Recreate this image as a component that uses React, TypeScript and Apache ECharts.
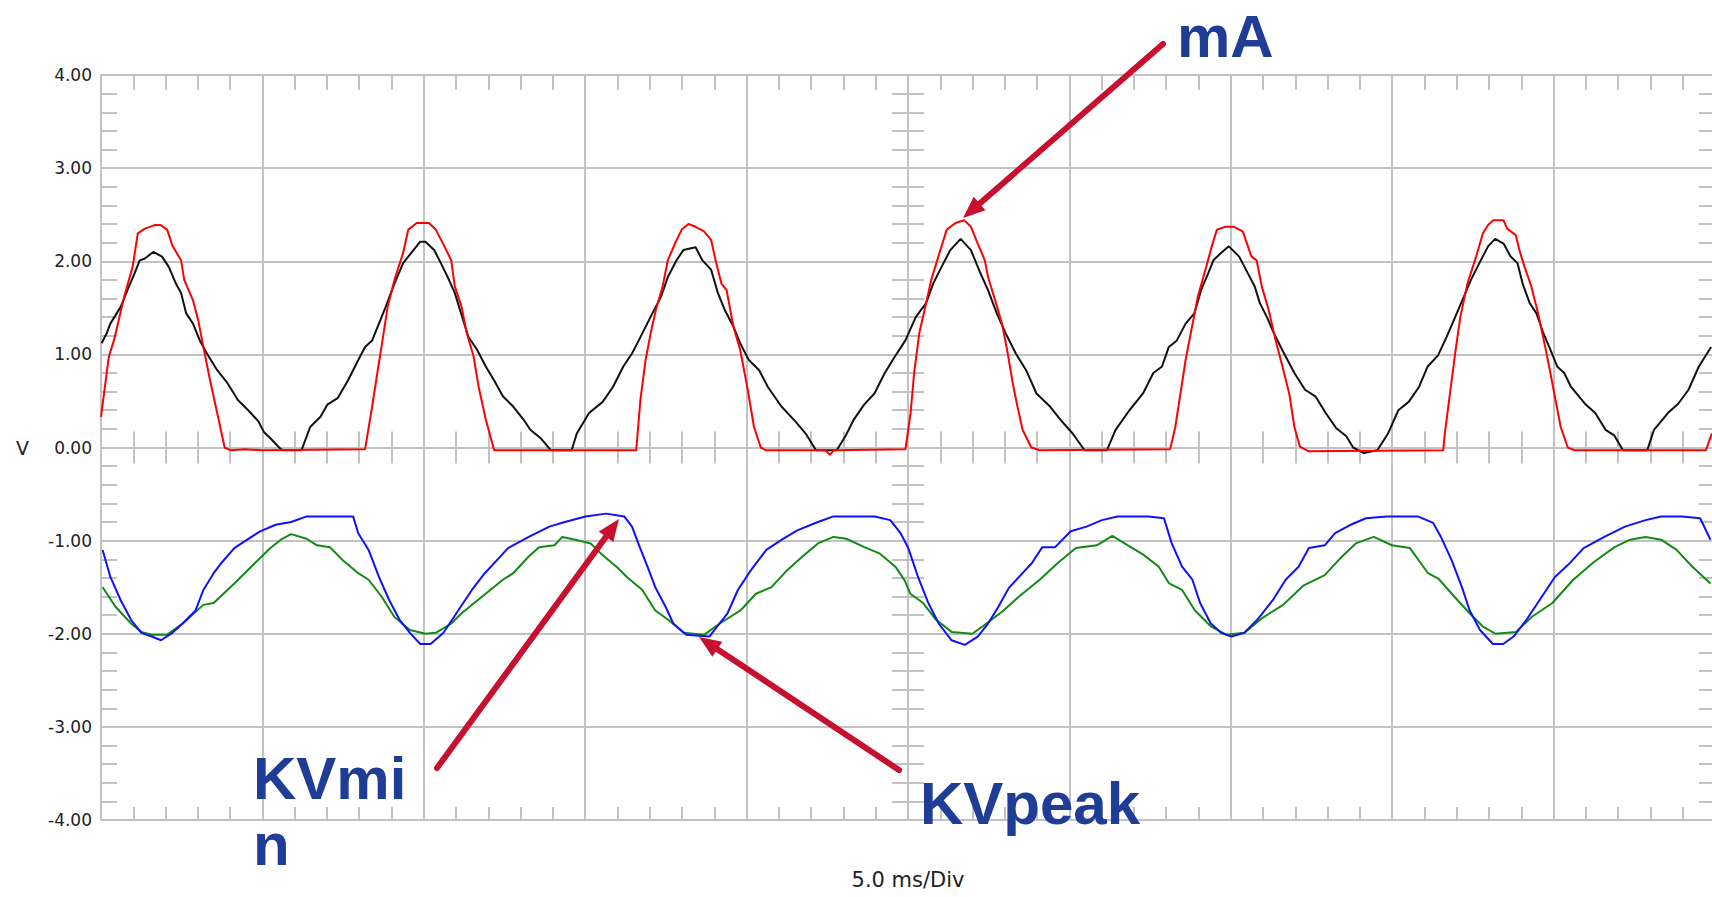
import React, { useEffect, useRef } from "react";
import * as echarts from "echarts";

// Time axis: 5.0 ms per division, 10 divisions
const timeDivisionsMs = [0, 50];
const voltTicks = [-4, 4];

// Red trace (mA) [ms, V]
const redTrace: number[][] = [
  [0.0, 0.33], [0.24, 0.97], [0.4, 1.15], [0.72, 1.62], [0.98, 1.94], [1.14, 2.3], [1.36, 2.35], [1.68, 2.39], [1.84, 2.39], [2.05, 2.34], [2.21, 2.17], [2.48, 2.01], [2.58, 1.8], [2.85, 1.58], [3.01, 1.37], [3.17, 1.08], [3.38, 0.72], [3.6, 0.37], [3.83, 0.0], [4.02, -0.03], [4.45, -0.02], [5.0, -0.03], [8.18, -0.02],
  [8.4, 0.44], [8.56, 0.8], [8.72, 1.15], [8.88, 1.51], [9.09, 1.8], [9.36, 2.09], [9.52, 2.34], [9.78, 2.41], [10.16, 2.41], [10.37, 2.34], [10.64, 2.16], [10.85, 2.01], [10.96, 1.73], [11.17, 1.51], [11.33, 1.23], [11.54, 0.98], [11.7, 0.65], [11.92, 0.3], [12.18, -0.03], [16.58, -0.03],
  [16.71, 0.51], [16.87, 0.94], [17.03, 1.23], [17.19, 1.48], [17.4, 1.73], [17.56, 2.01], [17.78, 2.19], [17.99, 2.34], [18.2, 2.4], [18.42, 2.37], [18.68, 2.32], [18.9, 2.23], [19.06, 1.98], [19.22, 1.76], [19.38, 1.69], [19.59, 1.3], [19.8, 1.05], [20.02, 0.65], [20.23, 0.22], [20.44, 0.0], [20.6, -0.03], [22.45, -0.03], [22.58, -0.08], [22.7, -0.03], [24.92, -0.02],
  [25.08, 0.37], [25.19, 0.8], [25.35, 1.23], [25.56, 1.55], [25.72, 1.8], [25.94, 2.05], [26.2, 2.34], [26.47, 2.41], [26.74, 2.44], [26.95, 2.37], [27.16, 2.19], [27.38, 2.01], [27.48, 1.83], [27.7, 1.58], [27.91, 1.33], [28.07, 1.05], [28.23, 0.72], [28.39, 0.44], [28.55, 0.19], [28.82, 0.0], [29.08, -0.03], [33.12, -0.02],
  [33.28, 0.22], [33.44, 0.58], [33.6, 0.94], [33.76, 1.23], [33.98, 1.62], [34.24, 1.94], [34.41, 2.16], [34.57, 2.34], [34.83, 2.37], [35.1, 2.37], [35.37, 2.32], [35.64, 2.05], [35.8, 2.01], [35.96, 1.73], [36.17, 1.48], [36.39, 1.15], [36.6, 0.87], [36.81, 0.58], [36.97, 0.22], [37.14, 0.01], [37.4, -0.04], [41.58, -0.03],
  [41.63, 0.15], [41.79, 0.58], [41.95, 1.01], [42.11, 1.4], [42.33, 1.76], [42.6, 2.05], [42.81, 2.3], [42.97, 2.39], [43.13, 2.44], [43.45, 2.44], [43.56, 2.35], [43.83, 2.28], [43.94, 2.12], [44.1, 1.94], [44.31, 1.73], [44.52, 1.44], [44.74, 1.08], [44.9, 0.8], [45.06, 0.51], [45.22, 0.22], [45.44, 0.0], [45.65, -0.03], [49.72, -0.03], [49.9, 0.15],
];

// Black trace [ms, V]
const blackTrace: number[][] = [
  [0.02, 1.12], [0.18, 1.23], [0.29, 1.33], [0.61, 1.51], [0.82, 1.69], [1.04, 1.87], [1.2, 2.01], [1.36, 2.03], [1.62, 2.1], [1.89, 2.05], [2.1, 1.94], [2.32, 1.76], [2.48, 1.66], [2.64, 1.44], [2.85, 1.33], [3.06, 1.15], [3.28, 1.01], [3.6, 0.83], [3.92, 0.69], [4.24, 0.51], [4.56, 0.4], [4.88, 0.28], [5.04, 0.17], [5.3, 0.08], [5.52, 0.0], [5.62, -0.03], [6.21, -0.03],
  [6.48, 0.22], [6.8, 0.33], [7.01, 0.46], [7.33, 0.53], [7.65, 0.72], [7.97, 0.94], [8.18, 1.08], [8.4, 1.15], [8.61, 1.33], [8.82, 1.51], [9.09, 1.76], [9.36, 1.98], [9.68, 2.12], [9.89, 2.21], [10.05, 2.21], [10.32, 2.12], [10.53, 1.98], [10.74, 1.83], [10.96, 1.66], [11.12, 1.48], [11.28, 1.3], [11.38, 1.19], [11.65, 1.05], [11.92, 0.87], [12.18, 0.72], [12.45, 0.55], [12.77, 0.44], [13.09, 0.3], [13.3, 0.19], [13.62, 0.1], [13.94, -0.03], [14.58, -0.03],
  [14.74, 0.15], [15.12, 0.37], [15.54, 0.49], [15.86, 0.65], [16.18, 0.87], [16.45, 1.01], [16.66, 1.15], [16.82, 1.26], [17.08, 1.44], [17.35, 1.62], [17.56, 1.83], [17.83, 2.01], [18.04, 2.12], [18.42, 2.15], [18.63, 2.01], [18.9, 1.91], [19.11, 1.66], [19.32, 1.48], [19.59, 1.3], [19.8, 1.12], [20.07, 0.94], [20.39, 0.83], [20.66, 0.65], [21.08, 0.44], [21.51, 0.28], [21.83, 0.15], [22.15, -0.03], [22.79, -0.03],
  [23.06, 0.12], [23.32, 0.3], [23.64, 0.46], [23.96, 0.58], [24.28, 0.8], [24.6, 0.98], [24.92, 1.15], [25.24, 1.4], [25.56, 1.55], [25.78, 1.76], [26.04, 1.94], [26.31, 2.12], [26.63, 2.24], [26.95, 2.12], [27.22, 1.89], [27.48, 1.69], [27.75, 1.44], [28.02, 1.23], [28.34, 1.01], [28.66, 0.83], [28.98, 0.58], [29.4, 0.44], [29.72, 0.3], [30.1, 0.15], [30.47, -0.03], [31.16, -0.03],
  [31.43, 0.19], [31.86, 0.4], [32.28, 0.58], [32.6, 0.8], [32.87, 0.87], [33.08, 1.08], [33.33, 1.15], [33.6, 1.33], [33.87, 1.44], [34.08, 1.69], [34.3, 1.87], [34.46, 2.01], [34.67, 2.08], [34.94, 2.16], [35.26, 2.05], [35.53, 1.87], [35.74, 1.73], [35.9, 1.55], [36.12, 1.4], [36.33, 1.23], [36.65, 1.01], [36.97, 0.8], [37.3, 0.62], [37.62, 0.55], [37.94, 0.37], [38.26, 0.21], [38.58, 0.12], [38.79, 0.0], [39.12, -0.06], [39.54, -0.03],
  [39.87, 0.15], [40.19, 0.4], [40.51, 0.49], [40.83, 0.65], [41.1, 0.87], [41.42, 0.99], [41.69, 1.19], [41.95, 1.4], [42.22, 1.62], [42.44, 1.8], [42.7, 1.98], [42.97, 2.16], [43.19, 2.24], [43.45, 2.19], [43.67, 2.05], [43.88, 1.98], [44.04, 1.76], [44.26, 1.55], [44.47, 1.44], [44.68, 1.23], [44.9, 1.05], [45.11, 0.87], [45.33, 0.8], [45.54, 0.65], [45.97, 0.47], [46.29, 0.37], [46.61, 0.19], [46.88, 0.13], [47.15, -0.03], [47.9, -0.03],
  [48.11, 0.19], [48.54, 0.37], [48.86, 0.47], [49.18, 0.62], [49.5, 0.87], [49.88, 1.08],
];

// Blue trace [ms, V]
const blueTrace: number[][] = [
  [0.05, -1.1], [0.29, -1.39], [0.61, -1.64], [0.93, -1.85], [1.25, -1.99], [1.57, -2.03], [1.86, -2.07], [2.21, -1.99], [2.53, -1.89], [2.93, -1.75], [3.17, -1.53], [3.49, -1.35], [3.73, -1.24], [4.13, -1.08], [4.53, -0.99], [4.93, -0.9], [5.41, -0.83], [5.89, -0.8], [6.37, -0.74], [7.17, -0.74], [7.81, -0.74],
  [7.97, -0.92], [8.29, -1.1], [8.61, -1.39], [8.93, -1.64], [9.25, -1.85], [9.57, -1.99], [9.89, -2.11], [10.21, -2.11], [10.61, -1.99], [11.01, -1.78], [11.49, -1.53], [11.89, -1.35], [12.61, -1.08], [13.25, -0.96], [13.89, -0.85], [14.37, -0.8], [15.01, -0.74], [15.65, -0.71], [16.21, -0.74],
  [16.45, -0.85], [16.69, -1.07], [16.93, -1.28], [17.17, -1.5], [17.49, -1.71], [17.73, -1.89], [18.13, -2.01], [18.85, -2.03], [19.09, -1.92], [19.41, -1.78], [19.73, -1.53], [20.13, -1.32], [20.61, -1.1], [21.09, -0.99], [21.57, -0.89], [22.21, -0.8], [22.69, -0.74], [23.97, -0.74], [24.45, -0.78],
  [24.77, -0.92], [25.01, -1.08], [25.31, -1.39], [25.63, -1.67], [25.95, -1.89], [26.35, -2.07], [26.76, -2.12], [27.16, -2.03], [27.48, -1.89], [27.8, -1.71], [28.12, -1.51], [28.44, -1.39], [28.84, -1.24], [29.16, -1.07], [29.56, -1.07], [30.04, -0.9], [30.53, -0.85], [31.01, -0.78], [31.49, -0.74], [32.45, -0.74], [32.93, -0.76],
  [33.17, -1.03], [33.49, -1.28], [33.81, -1.42], [34.05, -1.67], [34.38, -1.89], [34.7, -1.99], [35.02, -2.03], [35.42, -1.99], [35.82, -1.85], [36.3, -1.64], [36.7, -1.42], [37.1, -1.28], [37.42, -1.08], [37.91, -1.05], [38.23, -0.92], [38.71, -0.83], [39.19, -0.76], [39.83, -0.74], [40.79, -0.74], [41.27, -0.81],
  [41.51, -0.96], [41.84, -1.21], [42.16, -1.5], [42.4, -1.75], [42.72, -1.96], [43.12, -2.11], [43.44, -2.11], [43.76, -2.03], [44.16, -1.85], [44.64, -1.6], [45.04, -1.39], [45.45, -1.26], [45.93, -1.08], [46.57, -0.96], [47.21, -0.85], [47.85, -0.78], [48.33, -0.74], [48.98, -0.74], [49.54, -0.76], [49.86, -0.99],
];

// Green trace [ms, V]
const greenTrace: number[][] = [
  [0.05, -1.5], [0.45, -1.71], [0.93, -1.89], [1.25, -1.98], [1.57, -2.01], [2.05, -2.01], [2.53, -1.89], [3.17, -1.69], [3.49, -1.67], [4.13, -1.46], [4.77, -1.24], [5.25, -1.08], [5.57, -0.99], [5.89, -0.93], [6.37, -0.98], [6.69, -1.05], [7.09, -1.07], [7.49, -1.21], [7.97, -1.35], [8.29, -1.42], [8.69, -1.6], [9.09, -1.82], [9.57, -1.96], [10.05, -2.0], [10.37, -1.99],
  [10.85, -1.89], [11.17, -1.78], [11.81, -1.6], [12.45, -1.42], [12.77, -1.35], [13.25, -1.17], [13.57, -1.07], [14.05, -1.05], [14.29, -0.96], [14.69, -0.99], [15.17, -1.03], [15.49, -1.14], [15.97, -1.28], [16.29, -1.39], [16.77, -1.53], [17.17, -1.75], [17.57, -1.85], [18.05, -1.99], [18.69, -2.01],
  [19.17, -1.89], [19.81, -1.75], [20.29, -1.57], [20.77, -1.5], [21.25, -1.32], [21.73, -1.17], [22.21, -1.03], [22.69, -0.96], [23.09, -0.98], [23.65, -1.07], [24.13, -1.14], [24.61, -1.28], [24.9, -1.43], [25.07, -1.57], [25.47, -1.67], [25.87, -1.85], [26.35, -1.98], [26.99, -2.0],
  [27.32, -1.92], [27.96, -1.75], [28.44, -1.6], [29.08, -1.42], [29.64, -1.24], [30.2, -1.08], [30.85, -1.05], [31.33, -0.95], [31.81, -1.05], [32.29, -1.15], [32.77, -1.28], [33.09, -1.46], [33.49, -1.53], [33.89, -1.75], [34.38, -1.92], [34.86, -2.01], [35.42, -1.99],
  [35.98, -1.83], [36.62, -1.69], [37.26, -1.48], [37.91, -1.37], [38.39, -1.19], [38.87, -1.03], [39.43, -0.96], [39.99, -1.05], [40.55, -1.08], [41.11, -1.35], [41.44, -1.41], [41.92, -1.6], [42.4, -1.78], [42.8, -1.92], [43.2, -2.0], [43.84, -1.98],
  [44.32, -1.82], [44.96, -1.67], [45.61, -1.42], [46.25, -1.23], [46.89, -1.07], [47.37, -0.99], [47.85, -0.96], [48.33, -0.99], [48.81, -1.1], [49.3, -1.28], [49.86, -1.46],
];

const GRID_COLOR = "#c2c2c2";
const LABEL_FONT = "DejaVu Sans";
const NOTE_COLOR = "#1f3d96";
const ARROW_COLOR = "#c8102e";

function arrow(x1: number, y1: number, x2: number, y2: number) {
  const dx = x2 - x1;
  const dy = y2 - y1;
  const len = Math.hypot(dx, dy);
  const ux = dx / len;
  const uy = dy / len;
  const h = 22;
  const w = 9;
  const bx = x2 - ux * h;
  const by = y2 - uy * h;
  return [
    {
      type: "line",
      z: 100,
      shape: { x1, y1, x2: bx + ux * 4, y2: by + uy * 4 },
      style: { stroke: ARROW_COLOR, lineWidth: 6, lineCap: "round" },
    },
    {
      type: "polygon",
      z: 100,
      shape: {
        points: [
          [x2, y2],
          [bx - uy * w, by + ux * w],
          [bx + uy * w, by - ux * w],
        ],
      },
      style: { fill: ARROW_COLOR },
    },
  ];
}

function tickAxisCommon(len: number) {
  return {
    axisLine: { show: true, onZero: false, lineStyle: { color: GRID_COLOR, width: 2 } },
    axisTick: { show: true, inside: true, length: len, lineStyle: { color: GRID_COLOR, width: 2 } },
    minorTick: { show: true, splitNumber: 5, length: len, lineStyle: { color: GRID_COLOR, width: 2 } },
    axisLabel: { show: false },
    splitLine: { show: false },
  };
}

export default function App() {
  const ref = useRef<HTMLDivElement>(null);
  useEffect(() => {
    if (!ref.current) return;
    const chart = echarts.init(ref.current, undefined, { renderer: "svg" });
    const gridRect = { left: 101, top: 75, right: -3, bottom: 77, containLabel: false, outerBoundsMode: "none" };
    const centerAxis = (len: number) => {
      const c = tickAxisCommon(len);
      return { ...c, axisLine: { ...c.axisLine, onZero: true } };
    };
    const option: any = {
      animation: false,
      backgroundColor: "#ffffff",
      grid: [
        { ...gridRect },
        { ...gridRect },
      ],
      xAxis: [
        {
          gridIndex: 0,
          type: "value",
          position: "bottom",
          min: timeDivisionsMs[0],
          max: timeDivisionsMs[1],
          interval: 5,
          ...tickAxisCommon(13),
          splitLine: { show: true, lineStyle: { color: GRID_COLOR, width: 2 } },
          name: "5.0 ms/Div",
          nameLocation: "middle",
          nameGap: 49,
          nameTextStyle: { fontFamily: LABEL_FONT, fontSize: 21, color: "#222" },
        },
        {
          gridIndex: 0,
          type: "value",
          position: "top",
          min: timeDivisionsMs[0],
          max: timeDivisionsMs[1],
          interval: 5,
          ...tickAxisCommon(15),
        },
        {
          gridIndex: 1,
          type: "value",
          position: "bottom",
          min: -25,
          max: 25,
          interval: 5,
          ...centerAxis(16),
        },
        {
          gridIndex: 1,
          type: "value",
          position: "top",
          min: -25,
          max: 25,
          interval: 5,
          ...centerAxis(16),
        },
      ],
      yAxis: [
        {
          gridIndex: 0,
          type: "value",
          position: "left",
          min: voltTicks[0],
          max: voltTicks[1],
          interval: 1,
          ...tickAxisCommon(16),
          splitLine: { show: true, lineStyle: { color: GRID_COLOR, width: 2 } },
          axisLabel: {
            show: true,
            margin: 9,
            fontFamily: LABEL_FONT,
            fontSize: 17,
            color: "#222",
            formatter: (v: number) => v.toFixed(2),
          },
          name: "V",
          nameLocation: "middle",
          nameRotate: 0,
          nameGap: 72,
          nameTextStyle: { fontFamily: LABEL_FONT, fontSize: 19, color: "#222" },
        },
        {
          gridIndex: 0,
          type: "value",
          position: "right",
          min: voltTicks[0],
          max: voltTicks[1],
          interval: 1,
          ...tickAxisCommon(16),
        },
        {
          gridIndex: 1,
          type: "value",
          position: "left",
          min: -4,
          max: 4,
          interval: 1,
          ...centerAxis(16),
        },
        {
          gridIndex: 1,
          type: "value",
          position: "right",
          min: -4,
          max: 4,
          interval: 1,
          ...centerAxis(16),
        },
      ],
      series: [
        { name: "CH2", type: "line", xAxisIndex: 0, yAxisIndex: 0, data: blackTrace, showSymbol: false, lineStyle: { color: "#111111", width: 2 }, z: 5 },
        { name: "CH1", type: "line", xAxisIndex: 0, yAxisIndex: 0, data: redTrace, showSymbol: false, lineStyle: { color: "#ff0000", width: 2 }, z: 6 },
        { name: "CH4", type: "line", xAxisIndex: 0, yAxisIndex: 0, data: greenTrace, showSymbol: false, lineStyle: { color: "#138a13", width: 2 }, z: 5 },
        { name: "CH3", type: "line", xAxisIndex: 0, yAxisIndex: 0, data: blueTrace, showSymbol: false, lineStyle: { color: "#1010ff", width: 2 }, z: 6 },
      ],
      graphic: [
        ...arrow(1163, 44, 963, 218),
        ...arrow(437, 768, 619, 519),
        ...arrow(899, 770, 699, 637),
        {
          type: "text",
          z: 101,
          style: { text: "mA", x: 1177, y: 36, verticalAlign: "middle", lineHeight: 60, fill: NOTE_COLOR, font: 'bold 60px "Liberation Sans"' },
        },
        {
          type: "text",
          z: 101,
          style: { text: "KVmi\nn", x: 253, y: 745, verticalAlign: "top", lineHeight: 66, fill: NOTE_COLOR, font: 'bold 60px "Liberation Sans"' },
        },
        {
          type: "text",
          z: 101,
          style: { text: "KVpeak", x: 920, y: 803, verticalAlign: "middle", fill: NOTE_COLOR, font: 'bold 60px "Liberation Sans"' },
        },
      ],
    };
    chart.setOption(option);
    return () => chart.dispose();
  }, []);
  return (
    <div
      ref={ref}
      style={{ position: "absolute", left: 0, top: 0, width: 1712, height: 897, overflow: "hidden" }}
    />
  );
}
